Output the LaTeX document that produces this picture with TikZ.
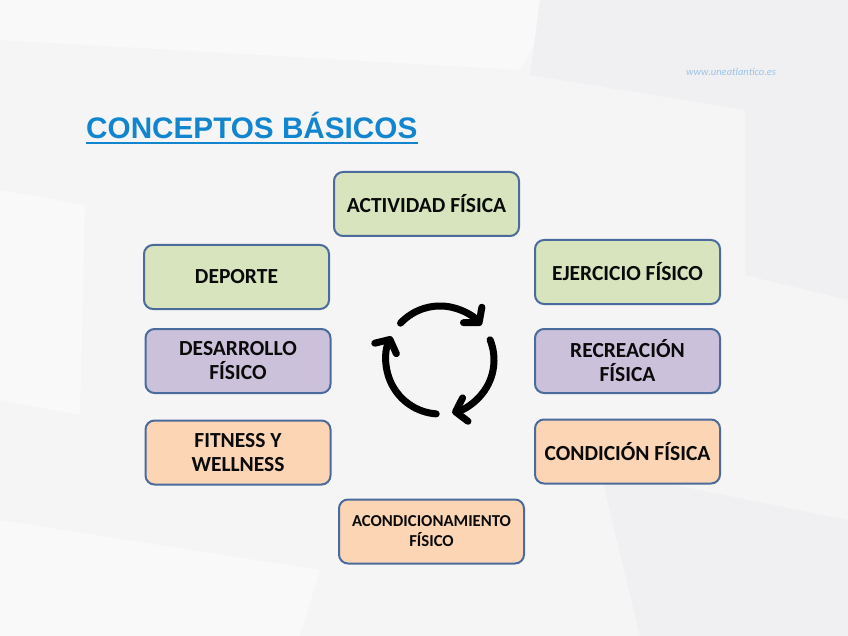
\documentclass[tikz,border=0pt]{standalone}
\usepackage{fontspec}
\setmainfont{Carlito}
\newfontfamily\titlefont{Liberation Sans}
\usetikzlibrary{arrows.meta}
\definecolor{bgc}{HTML}{F5F5F6}
\definecolor{bglight}{HTML}{F9F9F9}
\definecolor{bgdark}{HTML}{F0F0F2}
\definecolor{edgec}{HTML}{4A6B9B}
\definecolor{greenc}{HTML}{D7E4BD}
\definecolor{purplec}{HTML}{CCC1DA}
\definecolor{orangec}{HTML}{FCD5B5}
\definecolor{titlec}{HTML}{1285CF}
\definecolor{urlc}{HTML}{9CC4E8}
\definecolor{textc}{HTML}{0A0A0A}
\begin{document}
\begin{tikzpicture}[x=1pt,y=-1pt,
  box/.style={draw=edgec, line width=2pt, rounded corners=9pt, minimum width=185pt, minimum height=64pt, inner sep=2pt, align=center, text=textc, font=\bfseries\fontsize{21.5}{24}\selectfont},
  gbox/.style={box, fill=greenc},
  pbox/.style={box, fill=purplec},
  obox/.style={box, fill=orangec},
  cyclearc/.style={line width=7pt, line cap=round, -{Straight Barb[length=10pt, width=24pt, line cap=round, line join=round]}}]
\fill[bgc] (0,0) rectangle (848,636);
\useasboundingbox (0,0) rectangle (848,636);
% faint background facets
\fill[bglight] (0,0) -- (560,0) -- (520,70) -- (0,40) -- cycle;
\fill[bglight] (0,190) -- (85,205) -- (80,415) -- (0,400) -- cycle;
\fill[bgdark] (540,0) -- (848,0) -- (848,300) -- (745,275) -- (745,110) -- (530,75) -- cycle;
\fill[bgdark] (600,470) -- (848,520) -- (848,636) -- (640,636) -- cycle;
\fill[bglight] (0,520) -- (320,570) -- (300,636) -- (0,636) -- cycle;

% title and url
\node[anchor=base west, inner sep=0pt, text=titlec, font=\titlefont\bfseries\fontsize{29.7}{34}\selectfont] (title) at (86,139) {CONCEPTOS BÁSICOS};
\draw[titlec, line width=2.5pt] ([yshift=-4pt]title.base west) -- ([yshift=-4pt]title.base east);
\node[anchor=west, inner sep=0pt, text=urlc, font=\itshape\fontsize{10.5}{12}\selectfont] (url) at (686,72) {www.uneatlantico.es};

% boxes
\node[gbox] (act) at (426.5,204) {ACTIVIDAD FÍSICA};
\node[gbox] (dep) at (236.5,277) {DEPORTE};
\node[gbox] (eje) at (627.5,272) {EJERCICIO FÍSICO};
\node[pbox] (des) at (238,361) {DESARROLLO\\FÍSICO};
\node[pbox] (rec) at (627.5,361) {RECREACIÓN\\FÍSICA};
\node[obox] (fit) at (238,452.5) {FITNESS Y\\WELLNESS};
\node[obox] (con) at (627.5,451.5) {CONDICIÓN FÍSICA};
\node[obox, font=\bfseries\fontsize{16.7}{20}\selectfont] (aco) at (431.5,531.5) {ACONDICIONAMIENTO\\FÍSICO};

% cycle icon
\coordinate (cyc) at (440,360);
\draw[cyclearc] (cyc) ++(-137:54) arc[start angle=-137, end angle=-40, radius=54];
\draw[cyclearc] (cyc) ++(-22:54) arc[start angle=-22, end angle=77, radius=54];
\draw[cyclearc] (cyc) ++(94:54) arc[start angle=94, end angle=206, radius=54];
\end{tikzpicture}
\end{document}
